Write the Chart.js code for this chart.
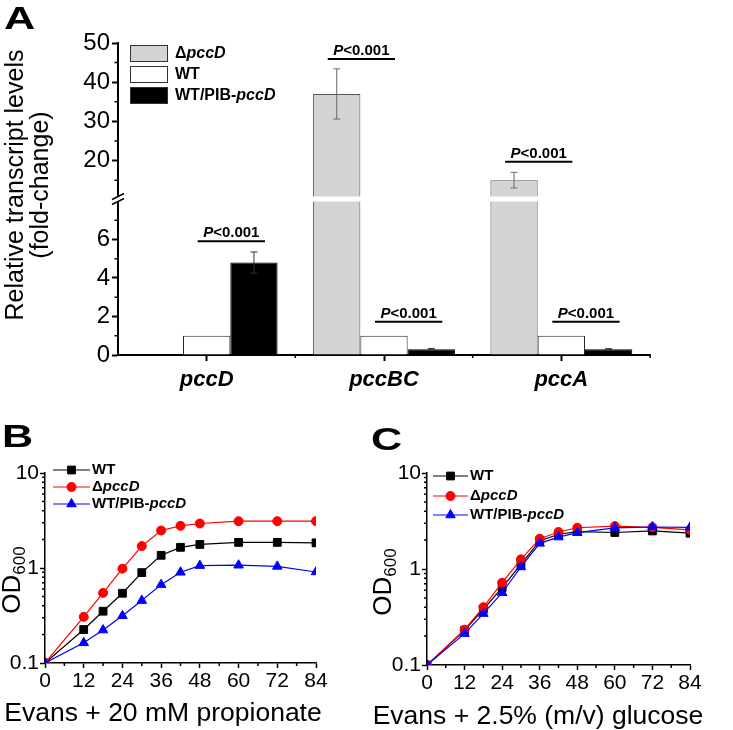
<!DOCTYPE html>
<html>
<head>
<meta charset="utf-8">
<script src="https://cdn.jsdelivr.net/npm/chart.js@4.4.1/dist/chart.umd.min.js"></script>
<style>
  body { margin: 0; background: #fff; }
  #wrap { position: relative; width: 733px; height: 730px; overflow: hidden; }
  canvas { position: absolute; }
</style>
</head>
<body>
<div id="wrap">
  <canvas id="panelA" width="733" height="400" style="left:0;top:0"></canvas>
  <canvas id="panelB" width="368" height="330" style="left:0;top:400px"></canvas>
  <canvas id="panelC" width="368" height="330" style="left:365px;top:400px"></canvas>
</div>
<script>
var FONT = "'Liberation Sans', Arial, sans-serif";
Chart.defaults.font.family = FONT;
Chart.defaults.color = "#000";

// strains, in legend order of panels B and C
var strains = ["WT", "\u0394pccD", "WT/PIB-pccD"];

// panel A: relative transcript levels
var genes = ["pccD", "pccBC", "pccA"];
var deltaLevel = [null, 37, 15];
var deltaErr = [0, 6.4, 2];
var wtLevel = [1, 1, 1];
var overLevel = [4.8, 0.3, 0.3];
var overErr = [0.55, 0.04, 0.03];
var lowTicks = [0, 2, 4, 6];
var lowMinor = [1, 3, 5, 7];
var highTicks = [20, 30, 40, 50];
var highMinor = [15, 25, 35, 45];
// P value brackets: gene, first bar, last bar, height, axis
var pGene = [0, 1, 2, 1, 2];
var pFrom = [1, 0, 0, 1, 1];
var pTo = [2, 1, 1, 2, 2];
var pLevel = [5.9, 45.9, 19.7, 1.72, 1.72];
var pAxis = ["yLow", "yHigh", "yHigh", "yLow", "yLow"];
var pText = "P<0.001";

// panels B and C: growth curves (OD600)
var hours = [0, 12, 18, 24, 30, 36, 42, 48, 60, 72, 84];
var hourTicks = [0, 12, 24, 36, 48, 60, 72, 84];
var hourMinor = [6, 18, 30, 42, 54, 66, 78];
var odTicks = [0.1, 1, 10];
var odMinor = [0.2, 0.3, 0.4, 0.5, 0.6, 0.7, 0.8, 0.9, 2, 3, 4, 5, 6, 7, 8, 9];
var propWT = [0.1, 0.225, 0.351, 0.542, 0.894, 1.36, 1.65, 1.77, 1.86, 1.86, 1.84];
var propDelta = [0.1, 0.306, 0.547, 0.984, 1.70, 2.48, 2.78, 2.94, 3.11, 3.11, 3.11];
var propOver = [0.1, 0.163, 0.222, 0.314, 0.454, 0.668, 0.901, 1.06, 1.07, 1.04, 0.908];
var glcWT = [0.1, 0.23, 0.38, 0.64, 1.12, 1.96, 2.3, 2.45, 2.4, 2.49, 2.36];
var glcDelta = [0.1, 0.233, 0.40, 0.72, 1.26, 2.07, 2.43, 2.69, 2.8, 2.72, 2.55];
var glcOver = [0.1, 0.212, 0.343, 0.566, 1.05, 1.85, 2.15, 2.39, 2.68, 2.74, 2.72];

var lineColors = ["#000000", "#ff0000", "#0000ff"];
var pointStyles = ["rect", "circle", "triangle"];
var pointSizes = [5.5, 4.5, 5.5];

// ---------- helpers ----------
function geneParts(s) {
  return s.split(/(pcc[A-Z]+)/).filter(Boolean).map(function (t) {
    return { t: t, it: /^pcc/.test(t) };
  });
}

function drawRich(ctx, segs, x, y, size, align, weight) {
  var w = 0;
  weight = weight || "bold";
  segs.forEach(function (s) {
    ctx.font = (s.it ? "italic " : "") + weight + " " + size + "px " + FONT;
    s.w = ctx.measureText(s.t).width;
    w += s.w;
  });
  var cx = align === "center" ? x - w / 2 : x;
  ctx.textAlign = "left";
  segs.forEach(function (s) {
    ctx.font = (s.it ? "italic " : "") + weight + " " + size + "px " + FONT;
    ctx.fillText(s.t, cx, y);
    cx += s.w;
  });
}

function minorTicks(chart, id, values, len, width) {
  var s = chart.scales[id], ctx = chart.ctx;
  ctx.save();
  ctx.strokeStyle = "#000";
  ctx.lineWidth = width;
  ctx.beginPath();
  values.forEach(function (v) {
    var p = s.getPixelForValue(v);
    if (s.isHorizontal()) { ctx.moveTo(p, s.top); ctx.lineTo(p, s.top + len); }
    else { ctx.moveTo(s.right - len, p); ctx.lineTo(s.right, p); }
  });
  ctx.stroke();
  ctx.restore();
}

function panelLetter(ctx, letter, x, y) {
  ctx.save();
  ctx.translate(x, y);
  ctx.scale(1.35, 1);
  ctx.fillStyle = "#000";
  ctx.textAlign = "left";
  ctx.textBaseline = "alphabetic";
  ctx.font = "bold 32px " + FONT;
  ctx.fillText(letter, 0, 0);
  ctx.restore();
}

function drawErr(chart, dsIndex, vals, errs, color) {
  var meta = chart.getDatasetMeta(dsIndex), scale = chart.scales[meta.yAxisID], ctx = chart.ctx;
  ctx.strokeStyle = color;
  ctx.lineWidth = 1;
  meta.data.forEach(function (bar, i) {
    if (vals[i] == null || !errs[i]) return;
    var top = scale.getPixelForValue(vals[i] + errs[i]);
    var bot = scale.getPixelForValue(vals[i] - errs[i]);
    ctx.beginPath();
    ctx.moveTo(bar.x, top); ctx.lineTo(bar.x, bot);
    ctx.moveTo(bar.x - 3.5, top); ctx.lineTo(bar.x + 3.5, top);
    ctx.moveTo(bar.x - 3.5, bot); ctx.lineTo(bar.x + 3.5, bot);
    ctx.stroke();
  });
}

function yAxisA(min, max, major, weight) {
  return {
    type: "linear", position: "left", stack: "left", stackWeight: 1, weight: weight,
    min: min, max: max,
    afterBuildTicks: function (s) { s.ticks = major.map(function (v) { return { value: v }; }); },
    afterFit: function (s) { s.width = 118; },
    grid: { display: true, drawOnChartArea: false, tickLength: 6, tickWidth: 2, tickColor: "#000" },
    border: { color: "#000", width: 2 },
    ticks: { color: "#000", font: { family: FONT, size: 24 }, padding: 2, autoSkip: false,
      callback: function (v) { return String(v); } }
  };
}

// ---------- panel A ----------
var barFill = ["#d4d4d4", "#ffffff", "#000000"];
var barLine = ["#555555", "#222222", "#000000"];

var decorA = {
  id: "decorA",
  afterDatasetsDraw: function (chart) {
    var ctx = chart.ctx, area = chart.chartArea;
    var yb = chart.scales.yHigh.bottom;
    ctx.save();
    // white gap through the broken bars
    ctx.fillStyle = "#fff";
    ctx.fillRect(area.left + 2, yb - 2.5, area.right - area.left, 5);
    drawErr(chart, 3, deltaLevel, deltaErr, "#6a6a6a");
    drawErr(chart, 2, overLevel, overErr, "#333");
    // significance brackets
    var slotMeta = [chart.getDatasetMeta(0), chart.getDatasetMeta(1), chart.getDatasetMeta(2)];
    pGene.forEach(function (g, k) {
      var x0 = slotMeta[pFrom[k]].data[g].x - 9;
      var x1 = slotMeta[pTo[k]].data[g].x + 11;
      var y = chart.scales[pAxis[k]].getPixelForValue(pLevel[k]);
      ctx.strokeStyle = "#000";
      ctx.lineWidth = 2;
      ctx.beginPath(); ctx.moveTo(x0, y); ctx.lineTo(x1, y); ctx.stroke();
      ctx.fillStyle = "#000";
      ctx.textBaseline = "alphabetic";
      drawRich(ctx, [{ t: "P", it: true }, { t: pText.slice(1), it: false }], (x0 + x1) / 2, y - 4, 15, "center");
    });
    ctx.restore();
  },
  afterDraw: function (chart) {
    var ctx = chart.ctx, area = chart.chartArea;
    var yb = chart.scales.yHigh.bottom;
    minorTicks(chart, "yLow", lowMinor, 3.5, 1.5);
    minorTicks(chart, "yHigh", highMinor, 3.5, 1.5);
    minorTicks(chart, "x", [0.5, 1.5, 2.5], 3, 1.5);
    ctx.save();
    // axis break
    ctx.fillStyle = "#fff";
    ctx.fillRect(area.left - 3, yb - 2, 6, 4);
    ctx.strokeStyle = "#000";
    ctx.lineWidth = 1.5;
    [-2.5, 2.5].forEach(function (d) {
      ctx.beginPath();
      ctx.moveTo(area.left - 6, yb + d + 3);
      ctx.lineTo(area.left + 6, yb + d - 3);
      ctx.stroke();
    });
    // legend
    [1, 0, 2].forEach(function (k, i) {
      var top = 45 + i * 21;
      ctx.fillStyle = barFill[i];
      ctx.fillRect(130, top, 38, 17);
      ctx.strokeStyle = "#333";
      ctx.lineWidth = 1;
      ctx.strokeRect(130.5, top + 0.5, 37, 16);
      ctx.fillStyle = "#000";
      ctx.textBaseline = "middle";
      drawRich(ctx, geneParts(strains[k]), 175, top + 9, 16, "left");
    });
    // y title
    ctx.translate(0, 185);
    ctx.rotate(-Math.PI / 2);
    ctx.textAlign = "center";
    ctx.textBaseline = "alphabetic";
    ctx.font = "25px " + FONT;
    ctx.fillText("Relative transcript levels", 0, 23);
    ctx.fillText("(fold-change)", 0, 48);
    ctx.restore();
    panelLetter(ctx, "A", 4, 29);
  }
};

new Chart(document.getElementById("panelA"), {
  type: "bar",
  data: {
    labels: genes,
    datasets: [
      { label: strains[1], data: deltaLevel, stack: "d", yAxisID: "yLow", backgroundColor: barFill[0], borderColor: barLine[0], borderWidth: 1, clip: 0 },
      { label: strains[0], data: wtLevel, stack: "w", yAxisID: "yLow", backgroundColor: barFill[1], borderColor: barLine[1], borderWidth: 1, clip: 0 },
      { label: strains[2], data: overLevel, stack: "o", yAxisID: "yLow", backgroundColor: barFill[2], borderColor: barLine[2], borderWidth: 1, clip: 0 },
      { label: strains[1], data: deltaLevel, stack: "d", yAxisID: "yHigh", backgroundColor: barFill[0], borderColor: barLine[0], borderWidth: 1, clip: 0 }
    ]
  },
  options: {
    responsive: false,
    animation: false,
    events: [],
    layout: { padding: { left: 0, top: 43, right: 83, bottom: 0 } },
    datasets: { bar: { barPercentage: 1, categoryPercentage: 0.8 } },
    plugins: { legend: { display: false }, tooltip: { enabled: false } },
    scales: {
      x: {
        grid: { display: true, drawOnChartArea: false, offset: false, tickLength: 6, tickWidth: 2, tickColor: "#000" },
        border: { color: "#000", width: 2 },
        ticks: { color: "#000", font: { family: FONT, size: 22, weight: "bold", style: "italic" }, padding: 6 },
        afterFit: function (s) { s.height = 45; }
      },
      yLow: yAxisA(0, 8.1, lowTicks, 1),
      yHigh: yAxisA(10.2, 50, highTicks, 2)
    }
  },
  plugins: [decorA]
});

// ---------- panels B and C ----------
function growthChart(id, series, title, g) {
  var decor = {
    id: "decor" + id,
    afterDraw: function (chart) {
      var ctx = chart.ctx;
      minorTicks(chart, "x", hourMinor, 3, 1.5);
      minorTicks(chart, "y", odMinor, 3, 1.5);
      ctx.save();
      // legend
      strains.forEach(function (name, k) {
        var y = g.legendY[k];
        ctx.strokeStyle = lineColors[k];
        ctx.lineWidth = 1.2;
        ctx.beginPath(); ctx.moveTo(g.legendX[0], y); ctx.lineTo(g.legendX[1], y); ctx.stroke();
        ctx.fillStyle = lineColors[k];
        ctx.lineWidth = 1;
        Chart.helpers.drawPoint(ctx, { pointStyle: pointStyles[k], radius: pointSizes[k], rotation: 0, borderWidth: 1 },
          (g.legendX[0] + g.legendX[1]) / 2, y);
        ctx.fillStyle = "#000";
        ctx.textBaseline = "middle";
        drawRich(ctx, geneParts(name), g.legendX[1] + 2, y, 15, "left");
      });
      // x title
      ctx.textBaseline = "alphabetic";
      ctx.textAlign = "center";
      ctx.font = "26.5px " + FONT;
      ctx.fillText(title, g.titleX, g.titleY);
      // y title OD600
      ctx.translate(g.odX, g.odY);
      ctx.rotate(-Math.PI / 2);
      ctx.textAlign = "left";
      ctx.font = "26px " + FONT;
      var w1 = ctx.measureText("OD").width;
      ctx.font = "17px " + FONT;
      var w2 = ctx.measureText("600").width;
      ctx.font = "26px " + FONT;
      ctx.fillText("OD", -(w1 + w2) / 2, 0);
      ctx.font = "17px " + FONT;
      ctx.fillText("600", -(w1 + w2) / 2 + w1, 5);
      ctx.restore();
      panelLetter(ctx, g.letter, g.letterX, g.letterY);
    }
  };
  return new Chart(document.getElementById(id), {
    type: "line",
    data: {
      datasets: series.map(function (vals, k) {
        return {
          label: strains[k],
          data: hours.map(function (h, i) { return { x: h, y: vals[i] }; }),
          borderColor: lineColors[k],
          backgroundColor: lineColors[k],
          pointStyle: pointStyles[k],
          pointRadius: pointSizes[k],
          pointBorderWidth: 1,
          borderWidth: 1.2,
          tension: 0,
          order: 3 - k
        };
      })
    },
    options: {
      responsive: false,
      animation: false,
      events: [],
      layout: { padding: { left: 0, top: 73, right: 368 - g.right, bottom: 0 } },
      plugins: { legend: { display: false }, tooltip: { enabled: false } },
      scales: {
        x: {
          type: "linear", min: 0, max: 84,
          afterBuildTicks: function (s) { s.ticks = hourTicks.map(function (v) { return { value: v }; }); },
          afterFit: function (s) { s.height = 330 - g.bottom; },
          grid: { display: true, drawOnChartArea: false, tickLength: 5, tickWidth: 1.5, tickColor: "#000" },
          border: { color: "#000", width: 1.5 },
          ticks: { color: "#000", font: { family: FONT, size: 21 }, padding: 1, maxRotation: 0, autoSkip: false,
            callback: function (v) { return String(v); } }
        },
        y: {
          type: "logarithmic", min: 0.1, max: 10,
          afterBuildTicks: function (s) { s.ticks = odTicks.map(function (v) { return { value: v }; }); },
          afterFit: function (s) { s.width = g.left; },
          grid: { display: true, drawOnChartArea: false, tickLength: 5, tickWidth: 1.5, tickColor: "#000" },
          border: { color: "#000", width: 1.5 },
          ticks: { color: "#000", font: { family: FONT, size: 21 }, padding: 1, autoSkip: false,
            callback: function (v) { return String(v); } }
        }
      }
    },
    plugins: [decor]
  });
}

growthChart("panelB", [propWT, propDelta, propOver], "Evans + 20 mM propionate", {
  left: 45, right: 316, bottom: 263,
  legendX: [53, 90], legendY: [70, 87, 104],
  titleX: 163, titleY: 321, odX: 20, odY: 180,
  letter: "B", letterX: 2, letterY: 47
});
growthChart("panelC", [glcWT, glcDelta, glcOver], "Evans + 2.5% (m/v) glucose", {
  left: 62, right: 325, bottom: 265,
  legendX: [68, 103], legendY: [76, 96, 115],
  titleX: 173, titleY: 324, odX: 26, odY: 182,
  letter: "C", letterX: 6, letterY: 50
});
</script>
</body>
</html>
